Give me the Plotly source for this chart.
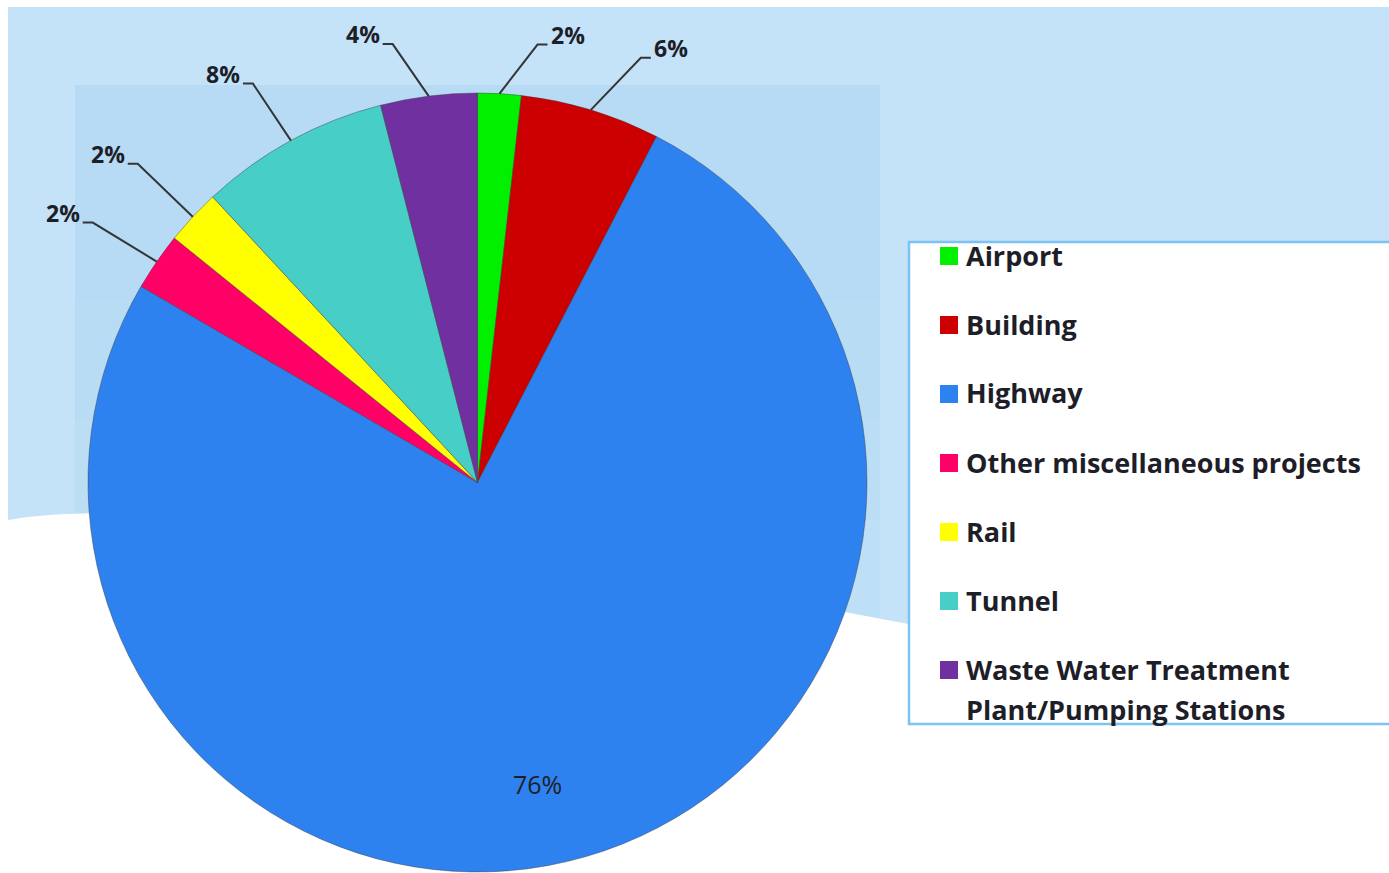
import math
import textwrap
import plotly.graph_objects as go

# ---------------- data ----------------
categories = ["Airport", "Building", "Highway", "Other miscellaneous projects",
              "Rail", "Tunnel", "Waste Water Treatment Plant/Pumping Stations"]
shares = [1.8, 5.8, 75.8, 2.4, 2.3, 7.9, 4.0]

# ---------------- style ----------------
colors = ["#00f000", "#cc0000", "#2e82f0", "#ff0066", "#ffff00", "#47cec7", "#7030a0"]
W, H = 1389, 873
CX, CY, R = 477.5, 482.5, 389.5          # pie centre / radius in page pixels
# elbow offsets (pixels) of the leader lines for the outside labels, and tail length
label_offsets = {0: (38, -49), 1: (50, -52), 3: (-64, -39), 4: (-55, -53),
                 5: (-38, -57), 6: (-36, -52)}
TAIL = 10
INSIDE_LABEL_RADIUS = 0.79
INSIDE_LABEL_SHIFT_DEG = 5
TEXT_COLOR = "#1e1e28"
FONT = "Open Sans"


def px(x):
    return x / W


def py(y):
    return 1 - y / H


fig = go.Figure()
fig.add_trace(go.Pie(
    labels=categories,
    values=shares,
    sort=False,
    direction="clockwise",
    rotation=0,
    marker=dict(colors=colors, line=dict(color="rgba(60,60,60,0.55)", width=0.8)),
    textinfo="none",
    hoverinfo="label+percent",
    showlegend=False,
    domain=dict(x=[px(CX - R), px(CX + R)], y=[py(CY + R), py(CY - R)]),
))

shapes = []
annotations = []

# ---------------- background (slide decoration) ----------------
shapes.append(dict(type="rect", xref="paper", yref="paper", layer="below",
                   x0=px(8), x1=px(W), y0=py(H), y1=py(7),
                   fillcolor="#c4e2f8", line=dict(width=0)))
for top, col in [(85, "#b7dbf4"), (300, "#b9dcf5"), (420, "#bbdef5"), (520, "#bde0f6")]:
    shapes.append(dict(type="rect", xref="paper", yref="paper", layer="below",
                       x0=px(75), x1=px(880), y0=py(H), y1=py(top),
                       fillcolor=col, line=dict(width=0)))
wave = (f"M {px(8)},{py(H)} L {px(8)},{py(520)} "
        f"C {px(150)},{py(495)} {px(500)},{py(535)} {px(1389)},{py(720)} "
        f"L {px(1400)},{py(H)} Z")
shapes.append(dict(type="path", xref="paper", yref="paper", layer="below",
                   path=wave, fillcolor="white", line=dict(width=0)))

# ---------------- percentage labels ----------------
total = sum(shares)
cum = 0.0
for i, v in enumerate(shares):
    mid = (cum + v / 2) / total * 2 * math.pi
    cum += v
    pct = f"{round(v / total * 100)}%"
    if i in label_offsets:
        ax = CX + R * math.sin(mid)
        ay = CY - R * math.cos(mid)
        dx, dy = label_offsets[i]
        ex, ey = ax + dx, ay + dy
        side = 1 if dx > 0 else -1
        tx = ex + side * TAIL
        shapes.append(dict(type="path", xref="paper", yref="paper", layer="above",
                           path=f"M {px(ax)},{py(ay)} L {px(ex)},{py(ey)} L {px(tx)},{py(ey)}",
                           line=dict(color="#353535", width=2)))
        annotations.append(dict(x=px(tx + side * 1), y=py(ey - 10), xref="paper", yref="paper",
                                text=f"<b>{pct}</b>", showarrow=False,
                                xanchor="left" if side > 0 else "right", yanchor="middle",
                                font=dict(family=FONT, size=23, color=TEXT_COLOR)))
    else:
        ang = mid + math.radians(INSIDE_LABEL_SHIFT_DEG)
        lx = CX + INSIDE_LABEL_RADIUS * R * math.sin(ang)
        ly = CY - INSIDE_LABEL_RADIUS * R * math.cos(ang)
        annotations.append(dict(x=px(lx), y=py(ly), xref="paper", yref="paper",
                                text=pct, showarrow=False, xanchor="center", yanchor="middle",
                                font=dict(family=FONT, size=25, color=TEXT_COLOR)))

# ---------------- legend (drawn from categories / colors) ----------------
LEG_X0, LEG_Y0, LEG_Y1 = 909, 242, 724
shapes.append(dict(type="rect", xref="paper", yref="paper", layer="above",
                   x0=px(LEG_X0), x1=px(W + 10), y0=py(LEG_Y1), y1=py(LEG_Y0),
                   fillcolor="white", line=dict(color="#7cc2f2", width=2.5)))
ROW0, ROW_STEP, LINE_STEP = 255, 69, 40
for i, (name, c) in enumerate(zip(categories, colors)):
    yc = ROW0 + i * ROW_STEP
    shapes.append(dict(type="rect", xref="paper", yref="paper", layer="above",
                       x0=px(940), x1=px(958), y0=py(yc + 10), y1=py(yc - 8),
                       fillcolor=c, line=dict(width=0)))
    for j, line in enumerate(textwrap.wrap(name, 28)):
        annotations.append(dict(x=px(964), y=py(yc + j * LINE_STEP), xref="paper", yref="paper",
                                text=f"<b>{line}</b>", showarrow=False,
                                xanchor="left", yanchor="middle",
                                font=dict(family=FONT, size=27, color=TEXT_COLOR)))

fig.update_layout(
    width=W, height=H,
    margin=dict(l=0, r=0, t=0, b=0),
    paper_bgcolor="white",
    plot_bgcolor="white",
    shapes=shapes,
    annotations=annotations,
    showlegend=False,
)

fig.write_html("out.html", config={"displayModeBar": False},
               post_script="document.body.style.margin='0';")
